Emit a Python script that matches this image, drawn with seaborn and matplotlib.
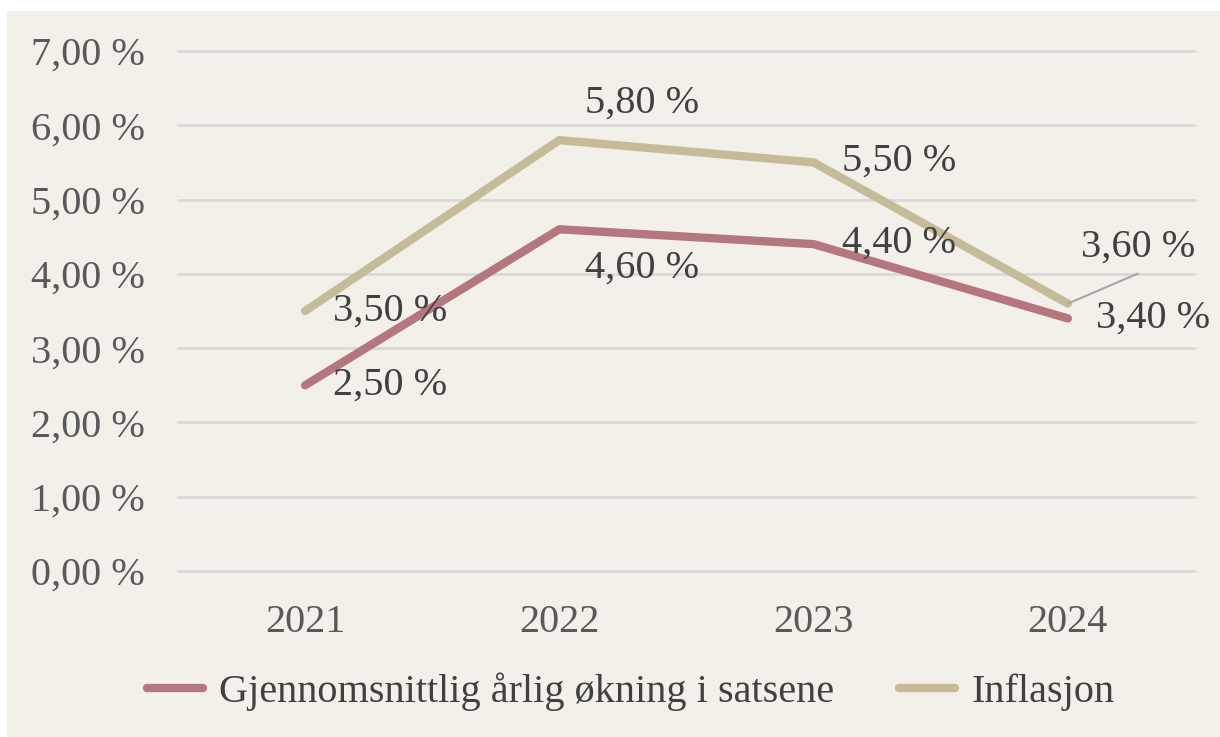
import pandas as pd
import matplotlib.pyplot as plt
import seaborn as sns
from matplotlib.patches import Rectangle

years = ["2021", "2022", "2023", "2024"]
okning = [2.5, 4.6, 4.4, 3.4]
inflasjon = [3.5, 5.8, 5.5, 3.6]
series_names = ["Gjennomsnittlig årlig økning i satsene", "Inflasjon"]
colors = ["#B5777E", "#C5BB99"]

df = pd.DataFrame({
    "År": years * 2,
    "Verdi": okning + inflasjon,
    "Serie": [series_names[0]] * 4 + [series_names[1]] * 4,
})

sns.set_theme(style="white")
plt.rcParams["font.family"] = ["Liberation Serif", "DejaVu Serif"]

bg = "#F3F0EA"
fig = plt.figure(figsize=(12.2, 7.37), dpi=100, facecolor="white")
fig.patches.append(Rectangle((7 / 1220, 0), 1, 1 - 11 / 737, transform=fig.transFigure,
                             facecolor=bg, edgecolor="none", zorder=-10))
ax = fig.add_axes([178 / 1220, 1 - 571 / 737, 1017 / 1220, 520 / 737])
ax.set_facecolor(bg)

sns.lineplot(data=df, x="År", y="Verdi", hue="Serie", palette=colors, linewidth=6,
             ax=ax, legend=False, solid_capstyle="round", sort=False)

ax.set_xlim(-0.5, 3.5)
ax.set_ylim(0, 7)
ax.set_yticks(range(0, 8))
ax.set_yticklabels([f"{v},00 %" for v in range(0, 8)])
ax.yaxis.grid(True, color="#D9D9D9", linewidth=2)
for gl in ax.get_ygridlines():
    gl.set_clip_on(False)
ax.set_axisbelow(True)
for s in ax.spines.values():
    s.set_visible(False)
ax.tick_params(axis="both", length=0, labelsize=29, labelcolor="#595959")
ax.tick_params(axis="y", pad=24)
ax.tick_params(axis="x", pad=24)
ax.set_xlabel("")
ax.set_ylabel("")

def fmt(v):
    return f"{v:.2f}".replace(".", ",") + " %"

# label offsets (pixels) relative to data points
off_okning = [(85, 0), (83, -39), (85, 1), (85, 0)]
off_infl = [(85, 0), (83, 37), (85, 1), (70, 56)]
for i, (v, o) in enumerate(zip(okning, off_okning)):
    ax.annotate(fmt(v), (i, v), xytext=o, textcoords="offset pixels",
                ha="center", va="center", fontsize=29, color="#404040")
for i, (v, o) in enumerate(zip(inflasjon, off_infl)):
    ax.annotate(fmt(v), (i, v), xytext=o, textcoords="offset pixels",
                ha="center", va="center", fontsize=29, color="#404040")
ax.annotate("", (3, inflasjon[3]), xytext=(70, 30), textcoords="offset pixels",
            arrowprops=dict(arrowstyle="-", color="#A6A6A6", lw=1.5, shrinkA=0, shrinkB=0))

handles = [plt.Line2D([], [], color=c, linewidth=6, solid_capstyle="round") for c in colors]
fig.legend(handles, series_names, loc="center", bbox_to_anchor=(0.517, 0.061), ncol=2,
           frameon=False, fontsize=29, labelcolor="#404040", handlelength=1.4,
           handletextpad=0.4, columnspacing=1.6)

fig.savefig("out.png", dpi=100, facecolor="white")
